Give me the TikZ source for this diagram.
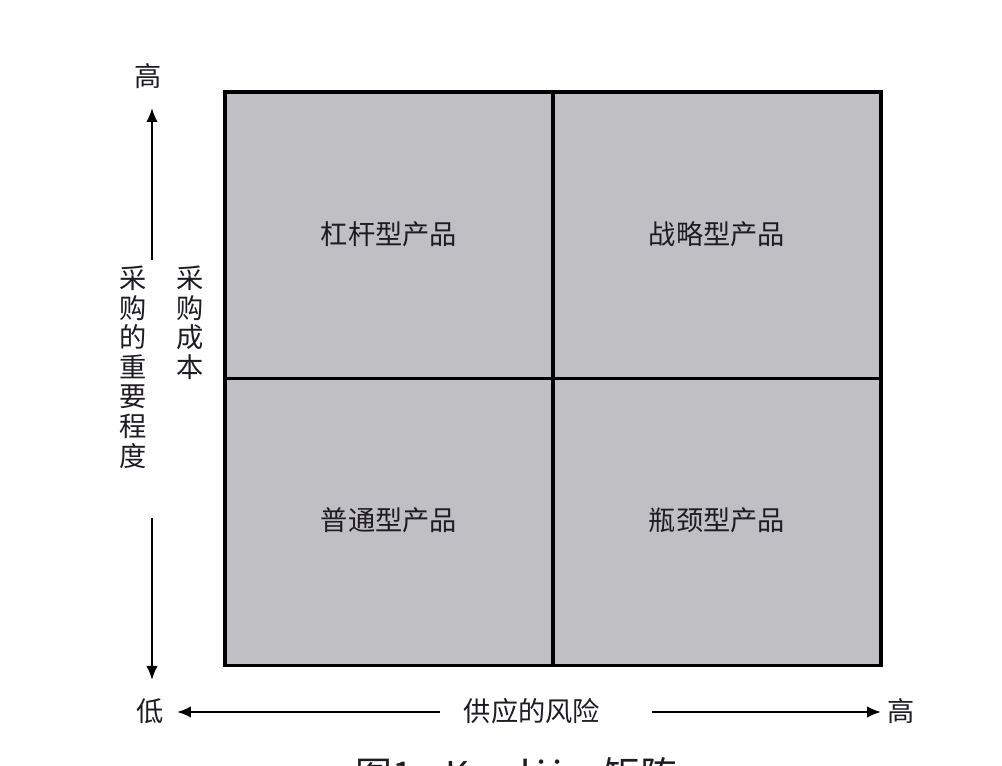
\documentclass[tikz,border=0pt]{standalone}
\usepackage{fontspec}
\newfontfamily\cjk{Noto Sans CJK SC}
\usepackage{tikz}
\usetikzlibrary{arrows.meta,positioning}
\definecolor{cellgray}{RGB}{192,192,196}
\definecolor{inkgray}{RGB}{30,28,34}
\tikzset{
  quad/.style  = {draw=black, fill=cellgray, line width=2pt, inner sep=0pt,
                  minimum width=6.56cm, minimum height=5.74cm,
                  font=\cjk\fontsize{15.5}{17}\selectfont, text=inkgray},
  axis/.style  = {font=\cjk\fontsize{15.5}{16.8}\selectfont, text=inkgray,
                  inner sep=0pt, align=center},
  arr/.style   = {-{Latex[length=0.28cm,width=0.23cm]}, line width=1.15pt, black}
}
\begin{document}
\begin{tikzpicture}[x=0.02cm, y=-0.02cm]
\useasboundingbox[fill=white] (0,0) rectangle (1002,766);

% the four quadrants of the matrix
\node[quad] (lev) at (389,235.5) {\raisebox{3pt}{杠杆型产品}};
\node[quad] (str) at (717,235.5) {\raisebox{3pt}{战略型产品}};
\node[quad] (nor) at (389,522) {\raisebox{3pt}{普通型产品}};
\node[quad] (bot) at (717,522) {\raisebox{3pt}{瓶颈型产品}};

% vertical axis
\node[axis] (yhi) at (148,76) {高};
\node[axis, anchor=north] (ylab) at (133,266) {采\\购\\的\\重\\要\\程\\度};
\node[axis, anchor=north] (ycost) at (190,266) {采\\购\\成\\本};
\coordinate (yup0) at (152,260);
\coordinate (yup1) at (152,108);
\coordinate (ydn0) at (152,518);
\coordinate (ydn1) at (152,680);
\draw[arr] (yup0) -- (yup1);
\draw[arr] (ydn0) -- (ydn1);

% horizontal axis
\node[axis] (xlo) at (150,711) {低};
\node[axis] (xlab) at (532,711) {供应的风险};
\node[axis] (xhi) at (901,711) {高};
\coordinate (xl0) at (440,712);
\coordinate (xl1) at (177,712);
\coordinate (xr0) at (652,712);
\coordinate (xr1) at (881,712);
\draw[arr] (xl0) -- (xl1);
\draw[arr] (xr0) -- (xr1);

% caption, cut by the lower edge
\node[font=\cjk\fontsize{21}{23}\selectfont, text=inkgray, anchor=north west, inner sep=0pt]
  (cap) at (355,757) {图1\hspace{0.9em}{\addfontfeature{LetterSpace=15}Kraljic}\hspace{0.45em}矩阵};

\end{tikzpicture}
\end{document}
